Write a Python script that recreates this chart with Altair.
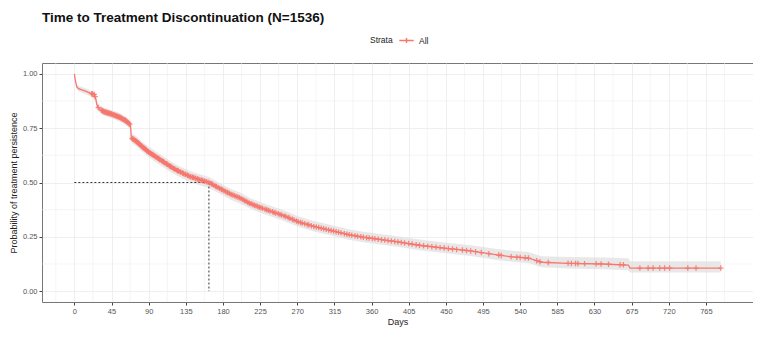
import altair as alt
import pandas as pd
import numpy as np

# Kaplan-Meier curve (days, survival) and confidence band; repeated days mark the big drops
km_time = [0, 1, 2, 3, 5, 10, 15, 20, 24, 26, 27, 28, 32, 36, 45, 55, 62, 68, 69, 75, 80, 90,
           100, 110, 120, 130, 140, 150, 163, 175, 190, 200, 212, 225, 240, 255, 272, 290,
           310, 332, 350, 370, 393, 420, 453, 480, 510, 530, 550, 560, 566, 598, 640, 671,
           673, 783]
km_surv = [1.0, 0.975, 0.955, 0.94, 0.932, 0.925, 0.918, 0.91, 0.905, 0.885, 0.862, 0.848,
           0.835, 0.826, 0.815, 0.80, 0.785, 0.765, 0.705, 0.69, 0.672, 0.64, 0.615, 0.59,
           0.565, 0.545, 0.528, 0.515, 0.50, 0.475, 0.445, 0.43, 0.405, 0.385, 0.365, 0.345,
           0.318, 0.298, 0.28, 0.26, 0.248, 0.238, 0.226, 0.21, 0.196, 0.185, 0.168, 0.158,
           0.152, 0.14, 0.133, 0.128, 0.125, 0.12, 0.106, 0.106]
km_lower = [1.0, 0.967, 0.945, 0.929, 0.92, 0.912, 0.904, 0.896, 0.89, 0.869, 0.846, 0.83,
            0.817, 0.807, 0.796, 0.78, 0.765, 0.744, 0.683, 0.667, 0.649, 0.616, 0.59, 0.565,
            0.54, 0.52, 0.503, 0.49, 0.475, 0.45, 0.42, 0.405, 0.381, 0.361, 0.341, 0.321,
            0.295, 0.275, 0.257, 0.237, 0.225, 0.215, 0.203, 0.187, 0.173, 0.162, 0.145,
            0.135, 0.129, 0.117, 0.11, 0.104, 0.101, 0.096, 0.086, 0.086]
km_upper = [1.0, 0.983, 0.965, 0.951, 0.944, 0.938, 0.932, 0.924, 0.92, 0.901, 0.878, 0.866,
            0.853, 0.845, 0.834, 0.82, 0.805, 0.786, 0.727, 0.713, 0.695, 0.664, 0.64, 0.615,
            0.59, 0.57, 0.553, 0.54, 0.525, 0.5, 0.47, 0.455, 0.43, 0.41, 0.39, 0.37, 0.343,
            0.323, 0.305, 0.285, 0.273, 0.263, 0.252, 0.236, 0.222, 0.211, 0.195, 0.186,
            0.18, 0.168, 0.161, 0.157, 0.155, 0.151, 0.138, 0.138]

# censoring times (days)
censor_time = [21, 22, 24, 25, 29, 33, 34, 35, 36, 37, 38, 39, 40, 41, 42, 43, 44, 45, 46, 47,
               48, 49, 50, 51, 52, 53, 54, 55, 56, 57, 58, 59, 60, 61, 62, 63, 64, 65, 66, 67,
               70, 71, 72, 73, 74, 75, 76, 77, 78, 79, 80, 81, 82, 83, 84, 85, 86, 87, 88, 89,
               90, 91, 92, 93, 94, 95, 96, 97, 98, 99, 101, 102, 103, 104, 106, 107, 108, 109,
               111, 112, 113, 115, 116, 117, 118, 120, 121, 122, 124, 125, 126, 128, 129, 131,
               132, 134, 135, 137, 138, 140, 141, 143, 144, 146, 147, 149, 150, 152, 154, 155,
               157, 158, 160, 162, 164, 166, 167, 169, 171, 172, 174, 176, 178, 179, 181, 183,
               185, 186, 188, 190, 192, 194, 196, 198, 200, 202, 204, 206, 208, 210, 212, 214,
               216, 218, 220, 222, 224, 226, 228, 231, 233, 235, 237, 240, 242, 244, 247, 249,
               251, 254, 256, 259, 261, 264, 266, 269, 271, 274, 276, 279, 282, 284, 287, 290,
               293, 296, 299, 302, 305, 308, 311, 314, 317, 320, 323, 327, 330, 333, 336, 340,
               343, 347, 350, 354, 357, 361, 364, 368, 372, 376, 380, 384, 388, 392, 396, 400,
               405, 409, 414, 418, 423, 428, 433, 438, 443, 448, 453, 458, 463, 470, 475, 480,
               486, 493, 502, 514, 517, 529, 536, 540, 546, 550, 560, 564, 574, 598, 602, 607,
               610, 618, 632, 638, 647, 661, 665, 685, 695, 701, 709, 715, 721, 743, 753, 783]

median_day = 163
major_x = [0, 45, 90, 135, 180, 225, 270, 315, 360, 405, 450, 495, 540, 585, 630, 675, 720, 765]
minor_x = [-22.5, 22.5, 67.5, 112.5, 157.5, 202.5, 247.5, 292.5, 337.5, 382.5, 427.5, 472.5,
           517.5, 562.5, 607.5, 652.5, 697.5, 742.5, 787.5]
major_y = [0, 0.25, 0.5, 0.75, 1.0]
minor_y = [0.125, 0.375, 0.625, 0.875]

RED = "#F8766D"
FONT = "Liberation Sans"

km = pd.DataFrame({"t": km_time, "s": km_surv, "lo": km_lower, "hi": km_upper,
                   "strata": "All"})
cens = pd.DataFrame({"t": censor_time,
                     "s": np.interp(censor_time, km_time, km_surv)})

xs = alt.Scale(domain=[-39.2, 822], nice=False, zero=False)
ys = alt.Scale(domain=[-0.05, 1.05], nice=False, zero=False)

xax = alt.Axis(values=major_x, title="Days", grid=True)
yax = alt.Axis(values=major_y, format=".2f", title="Probability of treatment persistence",
               grid=True)

gx = alt.Chart(pd.DataFrame({"x": minor_x})).mark_rule(
    color="#efefef", strokeWidth=0.6).encode(x=alt.X("x:Q", scale=xs, axis=xax))
gy = alt.Chart(pd.DataFrame({"y": minor_y})).mark_rule(
    color="#efefef", strokeWidth=0.6).encode(y=alt.Y("y:Q", scale=ys, axis=yax))

band = alt.Chart(km).mark_area(color="#dedede", opacity=0.7).encode(
    x=alt.X("t:Q", scale=xs, axis=xax),
    y=alt.Y("lo:Q", scale=ys, axis=yax),
    y2="hi:Q")

line = alt.Chart(km).mark_line(strokeWidth=1.3).encode(
    x=alt.X("t:Q", scale=xs, axis=xax),
    y=alt.Y("s:Q", scale=ys, axis=yax),
    color=alt.Color("strata:N", scale=alt.Scale(domain=["All"], range=[RED]),
                    legend=alt.Legend(title="Strata", orient="none", legendX=328, legendY=-28,
                                      direction="horizontal", titleOrient="left",
                                      symbolType="M-1.6,0H1.6M0,-0.55V0.55", symbolSize=81,
                                      symbolStrokeWidth=1.5, titleFontSize=8.5,
                                      titleFontWeight="normal", labelFontSize=8.5,
                                      titleColor="#222", labelColor="#222",
                                      titleFont=FONT, labelFont=FONT, titlePadding=8,
                                      labelOffset=7)))

pts = alt.Chart(cens).mark_point(shape="M-1,0H1M0,-1V1", size=30, filled=False,
                                 strokeWidth=1.3, color=RED, opacity=0.85).encode(
    x=alt.X("t:Q", scale=xs, axis=xax),
    y=alt.Y("s:Q", scale=ys, axis=yax))

med = pd.DataFrame({"x": [0, median_day], "x2": [median_day, median_day],
                    "y": [0.5, 0.5], "y2": [0.5, 0.0]})
medl = alt.Chart(med).mark_rule(color="#333333", strokeDash=[2, 2], strokeWidth=1).encode(
    x=alt.X("x:Q", scale=xs, axis=xax), x2="x2:Q",
    y=alt.Y("y:Q", scale=ys, axis=yax), y2="y2:Q")

chart = alt.layer(gx, gy, band, medl, line, pts).properties(
    width=711, height=239,
    title=alt.TitleParams("Time to Treatment Discontinuation (N=1536)", anchor="start",
                          fontSize=13.5, fontWeight="bold", font=FONT, color="#111",
                          offset=11, frame="group"),
    autosize=alt.AutoSizeParams(type="none"),
    padding={"left": 34, "top": 55, "right": 0, "bottom": 27},
).configure_view(stroke="#777777", strokeWidth=1).configure_axis(
    gridColor="#ebebeb", gridWidth=0.8, domain=False, tickColor="#444", tickSize=3,
    labelColor="#555", labelFontSize=7.5, labelFont=FONT, titleFont=FONT,
    titleFontSize=9, titleFontWeight="normal", titleColor="#222", labelPadding=2,
).configure_axisY(titlePadding=4).configure_axisX(titlePadding=3)

chart.save("out.html", embed_options={"renderer": "svg", "actions": False})
